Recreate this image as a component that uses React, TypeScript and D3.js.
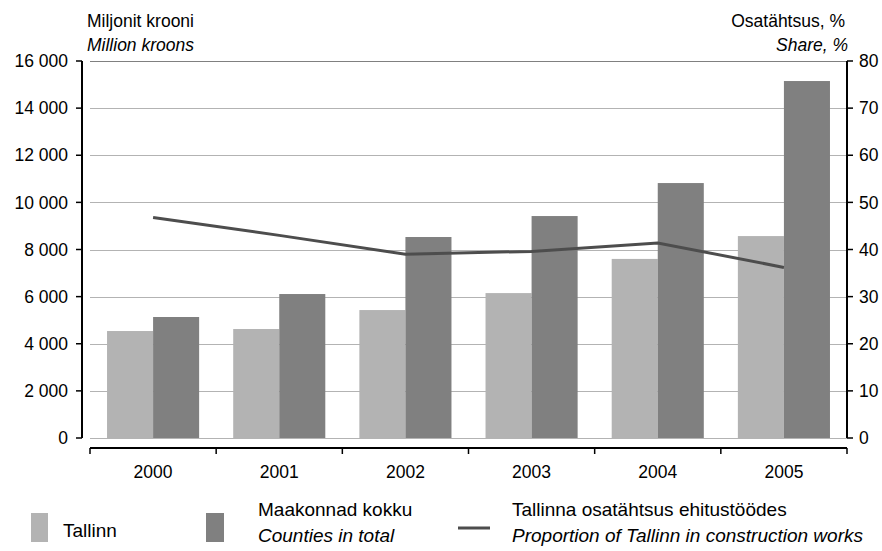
import React from "react";
import * as d3 from "d3";

const years = ["2000", "2001", "2002", "2003", "2004", "2005"];
const tallinn = [4540, 4625, 5430, 6150, 7600, 8570];
const counties = [5135, 6110, 8530, 9420, 10820, 15150];
const share = [46.8, 43.0, 39.0, 39.6, 41.4, 36.2];
const leftTicks = [0, 2000, 4000, 6000, 8000, 10000, 12000, 14000, 16000];
const rightTicks = [0, 10, 20, 30, 40, 50, 60, 70, 80];

const W = 882;
const H = 551;
const FONT = "'Liberation Sans', Arial, sans-serif";
const FS = 17.5;
const LFS = 19;

export default function App() {
  const x0 = 90, x1 = 847;
  const yTop = 61, yZero = 438;
  const leftAxisX = 82;
  const xAxisY = 448;

  const x = d3.scaleBand().domain(years).range([x0, x1]).paddingInner(0.27).paddingOuter(0.135);
  const band = d3.scaleBand().domain(years).range([x0, x1]);
  const yL = d3.scaleLinear().domain([0, 16000]).range([yZero, yTop]);
  const yR = d3.scaleLinear().domain([0, 80]).range([yZero, yTop]);
  const fmt = (v: number) => d3.format(",")(v).replace(/,/g, " ");

  const barW = x.bandwidth() / 2;
  const line = d3
    .line<number>()
    .x((_, i) => (band(years[i]) as number) + band.bandwidth() / 2)
    .y((d) => yR(d));

  return (
    <svg width={W} height={H} style={{ position: "absolute", left: 0, top: 0, fontFamily: FONT }}>
      <rect width={W} height={H} fill="#fff" />
      {leftTicks.map((t) => (
        <line key={"g" + t} x1={x0} x2={x1} y1={Math.round(yL(t)) + 0.5} y2={Math.round(yL(t)) + 0.5}
          stroke={t === 16000 ? "#808080" : "#b3b3b3"} strokeWidth={1.2} />
      ))}
      {years.map((yr, i) => {
        const bx = x(yr) as number;
        return (
          <g key={yr}>
            <rect x={bx} y={yL(tallinn[i])} width={barW} height={yZero - yL(tallinn[i])} fill="#b3b3b3" />
            <rect x={bx + barW} y={yL(counties[i])} width={barW} height={yZero - yL(counties[i])} fill="#808080" />
          </g>
        );
      })}
      <path d={line(share) as string} fill="none" stroke="#4d4d4d" strokeWidth={3} />
      <line x1={leftAxisX} x2={leftAxisX} y1={yTop} y2={yZero} stroke="#000" strokeWidth={2} />
      {leftTicks.map((t) => (
        <g key={"l" + t}>
          <line x1={leftAxisX - 6} x2={leftAxisX} y1={yL(t)} y2={yL(t)} stroke="#000" strokeWidth={1.5} />
          <text x={leftAxisX - 14} y={yL(t)} dy="0.35em" textAnchor="end" fontSize={FS}>{fmt(t)}</text>
        </g>
      ))}
      <line x1={x1} x2={x1} y1={yTop} y2={yZero} stroke="#000" strokeWidth={2} />
      {rightTicks.map((t) => (
        <g key={"r" + t}>
          <line x1={x1} x2={x1 + 6} y1={yR(t)} y2={yR(t)} stroke="#000" strokeWidth={1.5} />
          <text x={x1 + 12} y={yR(t)} dy="0.35em" textAnchor="start" fontSize={FS}>{t}</text>
        </g>
      ))}
      <line x1={x0} x2={x1} y1={xAxisY} y2={xAxisY} stroke="#000" strokeWidth={2} />
      {[...years.map((y) => band(y) as number), x1].map((px, i) => (
        <line key={"xt" + i} x1={px} x2={px} y1={xAxisY} y2={xAxisY + 6} stroke="#000" strokeWidth={1.5} />
      ))}
      {years.map((yr) => (
        <text key={"xl" + yr} x={(band(yr) as number) + band.bandwidth() / 2} y={478} textAnchor="middle" fontSize={FS}>{yr}</text>
      ))}
      <text x={87} y={27} fontSize={FS}>Miljonit krooni</text>
      <text x={87} y={51} fontSize={FS} fontStyle="italic">Million kroons</text>
      <text x={845} y={27} fontSize={FS} textAnchor="end">Osatähtsus, %</text>
      <text x={848} y={51} fontSize={FS} fontStyle="italic" textAnchor="end">Share, %</text>
      <rect x={31} y={513} width={17} height={29} fill="#b3b3b3" />
      <text x={63} y={537} fontSize={LFS}>Tallinn</text>
      <rect x={206} y={513} width={18} height={29} fill="#808080" />
      <text x={258} y={516} fontSize={LFS}>Maakonnad kokku</text>
      <text x={258} y={542} fontSize={LFS} fontStyle="italic">Counties in total</text>
      <line x1={458} x2={490} y1={528} y2={528} stroke="#4d4d4d" strokeWidth={3} />
      <text x={512} y={516} fontSize={LFS}>Tallinna osatähtsus ehitustöödes</text>
      <text x={512} y={542} fontSize={LFS} fontStyle="italic">Proportion of Tallinn in construction works</text>
    </svg>
  );
}
